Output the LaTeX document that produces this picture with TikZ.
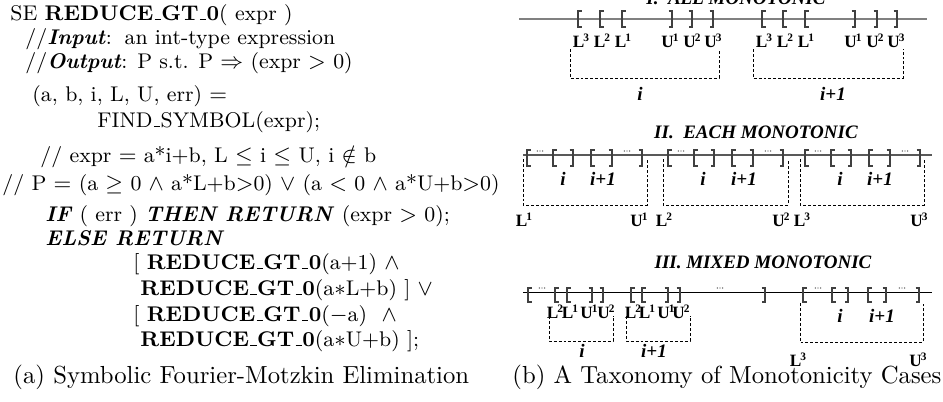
\documentclass[tikz,border=0pt]{standalone}
\usepackage{fontspec}
\newfontfamily\tms{Liberation Serif}
\newcommand\us{\leavevmode\kern.06em\vbox{\hrule width.3em}\kern.02em}
\newcommand\supl[2]{#1\kern-0.4pt\raisebox{2.4pt}{\fontsize{4.6}{5}\selectfont #2}}
\newcommand\opb[3]{\draw[brk] (#1+3.5,#2) -- (#1,#2) -- (#1,#3) -- (#1+3.5,#3);}
\newcommand\clb[3]{\draw[brk] (#1-3.5,#2) -- (#1,#2) -- (#1,#3) -- (#1-3.5,#3);}
\newcommand\tdots[2]{\foreach \dd in {-2.6,0,2.6}{\fill[black!70] (#1+\dd,#2) circle (0.28pt);}}
\tikzset{
  code/.style={anchor=base west, inner sep=0pt, font=\fontsize{8.6}{10}\selectfont},
  capt/.style={anchor=base west, inner sep=0pt, font=\fontsize{10}{12}\selectfont},
  ttl/.style={anchor=base, inner sep=0pt, font=\tms\fontsize{7.7}{9}\selectfont\bfseries\itshape},
  idx/.style={anchor=base, inner sep=0pt, font=\tms\fontsize{7.7}{9}\selectfont\bfseries\itshape},
  lu/.style={anchor=base, inner sep=0pt, font=\tms\fontsize{7}{8}\selectfont\bfseries},
  axisI/.style={draw=black!50, line width=0.8pt},
  axisII/.style={draw=black!65, line width=0.6pt},
  axisIII/.style={draw=black, line width=0.4pt},
  brk/.style={draw=black!75, line width=0.45pt},
  dbox/.style={draw=black, line width=0.4pt, dash pattern=on 1.2pt off 0.8pt},
}
\begin{document}
\begin{tikzpicture}[x=0.405pt,y=-0.405pt]
\useasboundingbox (0,0) rectangle (943,401);
% ---------- (a) left code ----------
\node[code] (n1) at (10,20) {SE \textbf{REDUCE\us GT\us 0}( expr )};
\node[code] (n2) at (25,44) {//\textbf{\textit{Input}}:\hspace{0.6em}an int-type expression};
\node[code] (n3) at (25,68) {//\textbf{\textit{Output}}: P s.t. P $\Rightarrow$ (expr $>$ 0)};
\node[code] (n4) at (32,101) {(a, b, i, L, U, err) $=$};
\node[code] (n5) at (97,127) {FIND\us SYMBOL(expr);};
\node[code] (n6) at (40,162) {// expr $=$ a*i+b, L $\leq$ i $\leq$ U, i $\notin$ b};
\node[code] (n7) at (2,190) {// P $=$ (a $\geq$ 0 $\wedge$ a*L+b$>$0) $\vee$ (a $<$ 0 $\wedge$ a*U+b$>$0)};
\node[code] (n8) at (45,221) {\textbf{\textit{IF}} ( err ) \textbf{\textit{THEN RETURN}} (expr $>$ 0);};
\node[code] (n9) at (45,245) {\textbf{\textit{ELSE RETURN}}};
\node[code] (n10) at (133,269) {[ \textbf{REDUCE\us GT\us 0}(a+1) $\wedge$};
\node[code] (n11) at (140,295) {\textbf{REDUCE\us GT\us 0}(a$*$L+b) ] $\vee$};
\node[code] (n12) at (133,321) {[ \textbf{REDUCE\us GT\us 0}($-$a) \ $\wedge$};
\node[code] (n13) at (140,346) {\textbf{REDUCE\us GT\us 0}(a$*$U+b) ];};
\node[capt] (capa) at (13,383) {(a) Symbolic Fourier-Motzkin Elimination};
% ---------- (b) panel I ----------
\node[ttl] (tI) at (736,4) {I.\ \ ALL MONOTONIC};
\draw[axisI] (519,19) -- (927,19);
\foreach \x in {578,600,622,762,783,805} {\opb{\x}{11}{27}}
\foreach \x in {672,692,713,855,877,897} {\clb{\x}{11}{27}}
\foreach \x/\l/\s [count=\k] in {581/L/3,602/L/2,623/L/1,670/U/1,692/U/2,713/U/3,764/L/3,785/L/2,806/L/1,853/U/1,875/U/2,896/U/3}
  {\node[lu, name=IL\k] at (\x,47) {\supl{\l}{\s}};}
\draw[dbox] (570,49) -- (570,78) -- (719,78) -- (719,49);
\draw[dbox] (753,49) -- (753,78) -- (903,78) -- (903,49);
\node[idx] (Ii) at (640,100) {i};
\node[idx] (Ii1) at (833,100) {i+1};
% ---------- panel II ----------
\node[ttl] (tII) at (756,138) {II.\ \ EACH MONOTONIC};
\draw[axisII] (523,155) -- (932,155);
\foreach \g in {527,668,805} {
  \opb{\g}{150}{166}\opb{\g+26}{150}{166}\opb{\g+64}{150}{166}
  \clb{\g+46}{150}{166}\clb{\g+85}{150}{166}\clb{\g+115}{150}{166}
  \tdots{\g+13}{151}\tdots{\g+100}{151}
}
\draw[dbox] (523,159) -- (523,205) -- (647,205) -- (647,159);
\draw[dbox] (663,159) -- (663,205) -- (788,205) -- (788,159);
\draw[dbox] (800,159) -- (800,205) -- (924,205) -- (924,159);
\foreach \x/\t [count=\k] in {563/i,603/i+1,703/i,744/i+1,840/i,880/i+1}
  {\node[idx, name=IIi\k] at (\x,185) {\t};}
\foreach \x/\l/\s [count=\k] in {524/L/1,639/U/1,664/L/2,781/U/2,802/L/3,919/U/3}
  {\node[lu, name=IIL\k] at (\x,226) {\supl{\l}{\s}};}
% ---------- panel III ----------
\node[ttl] (tIII) at (763,268) {III. MIXED MONOTONIC};
\draw[axisIII] (523,292) -- (932,292);
\foreach \x in {528,555,567,631,642,803,832,868} {\opb{\x}{288}{302}}
\foreach \x in {592,603,668,680,765,848,886,919} {\clb{\x}{288}{302}}
\foreach \x in {542,720,818,902} {\tdots{\x}{288}}
\foreach \x/\l/\s [count=\k] in {555/L/2,570/L/1,589/U/1,606/U/2,633/L/2,647/L/1,666/U/1,681/U/2}
  {\node[lu, name=IIIL\k] at (\x,318) {\supl{\l}{\s}};}
\draw[dbox] (549,316) -- (549,341) -- (613,341) -- (613,316);
\draw[dbox] (626,316) -- (626,341) -- (690,341) -- (690,316);
\draw[dbox] (800,303) -- (800,342) -- (923,342) -- (923,303);
\node[idx] (IIIi) at (582,357) {i};
\node[idx] (IIIi1) at (654,357) {i+1};
\node[idx] (IIIj) at (840,322) {i};
\node[idx] (IIIj1) at (882,322) {i+1};
\node[lu] (IIIL3) at (798,366) {\supl{L}{3}};
\node[lu] (IIIU3) at (918,366) {\supl{U}{3}};
\node[capt] (capb) at (512,383) {(b) A Taxonomy of Monotonicity Cases};
\end{tikzpicture}
\end{document}
